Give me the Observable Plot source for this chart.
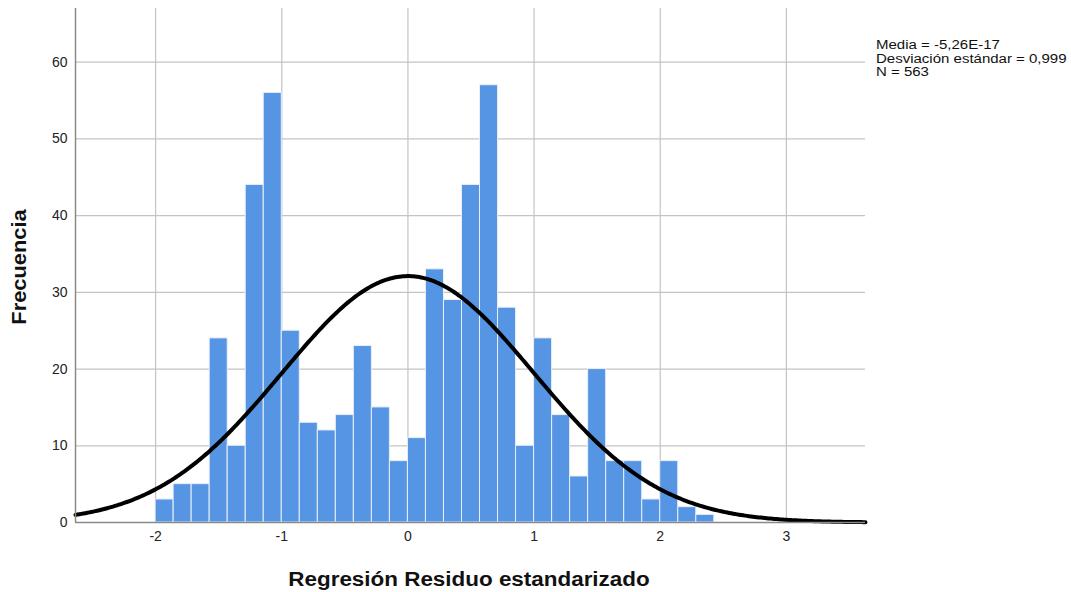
<!DOCTYPE html>
<html>
<head>
<meta charset="utf-8">
<script src="https://cdn.jsdelivr.net/npm/d3@7"></script>
<script src="https://cdn.jsdelivr.net/npm/@observablehq/plot@0.6"></script>
<style>
  html, body { margin: 0; padding: 0; background: #fff; }
  #wrap { position: relative; width: 1071px; height: 592px; font-family: "Liberation Sans", Arial, sans-serif; overflow: hidden; }
  #legend { position: absolute; left: 876px; top: 39px; font-size: 12px; line-height: 13.5px; color: #111; white-space: nowrap; transform: scaleX(1.25); transform-origin: 0 0; }
  .axtitle { position: absolute; font-size: 19.5px; font-weight: bold; color: #111; white-space: nowrap; line-height: 1; }
  #xtitle { left: 469px; top: 570px; transform: translateX(-50%) scaleX(1.15); }
  #ytitle { left: 20px; top: 267px; transform: translate(-50%, -50%) rotate(-90deg) scaleX(1.12); }
  svg g[aria-label="x-axis tick label"] text, svg g[aria-label="y-axis tick label"] text { font-size: 14px; fill: #222; }
</style>
</head>
<body>
<div id="wrap"></div>
<script>
// Histogram counts (bins of width 1/7 starting at -2)
const counts = [3, 5, 5, 24, 10, 44, 56, 25, 13, 12, 14, 23, 15, 8, 11, 33, 29, 44, 57, 28, 10, 24, 14, 6, 20, 8, 8, 3, 8, 2, 1];
const binStart = -2;
const binWidth = 1 / 7;
const xTicks = [-2, -1, 0, 1, 2, 3];
const yTicks = [0, 10, 20, 30, 40, 50, 60];
const stats = { mean: -5.26e-17, sd: 0.999, n: 563 };
const legendLines = ["Media = -5,26E-17", "Desviación estándar = 0,999", "N = 563"];
const xTitle = "Regresión Residuo estandarizado";
const yTitle = "Frecuencia";
const xDomain = [-2.635, 3.627];
const yDomain = [0, 67];

const bins = counts.map((c, i) => ({ x1: binStart + i * binWidth, x2: binStart + (i + 1) * binWidth, y: c }));

// Normal curve from the stated mean, sd and N
const curve = d3.range(0, 401).map(i => {
  const x = xDomain[0] + (xDomain[1] - xDomain[0]) * i / 400;
  const z = (x - stats.mean) / stats.sd;
  return { x, y: stats.n * binWidth * Math.exp(-0.5 * z * z) / (stats.sd * Math.sqrt(2 * Math.PI)) };
});

const chart = Plot.plot({
  width: 1071,
  height: 592,
  marginLeft: 75,
  marginRight: 206,
  marginTop: 8,
  marginBottom: 70,
  style: { fontFamily: "Liberation Sans, Arial, sans-serif", background: "#fff" },
  x: { domain: xDomain },
  y: { domain: yDomain },
  marks: [
    Plot.gridX(xTicks, { stroke: "#c4c4c4", strokeOpacity: 1, strokeWidth: 1.2 }),
    Plot.gridY(yTicks, { stroke: "#c4c4c4", strokeOpacity: 1, strokeWidth: 1.2 }),
    Plot.rectY(bins, { x1: "x1", x2: "x2", y: "y", fill: "#5695e3", stroke: "#e8effa", strokeWidth: 1 }),
    Plot.line(curve, { x: "x", y: "y", stroke: "#000", strokeWidth: 4 }),
    Plot.ruleY([0], { stroke: "#8a8a8a", strokeWidth: 1.5 }),
    Plot.ruleX([xDomain[0]], { stroke: "#8a8a8a", strokeWidth: 1.5 }),
    Plot.axisX(xTicks, { tickSize: 0, tickPadding: 9, tickFormat: d => String(d), label: null }),
    Plot.axisY(yTicks, { tickSize: 0, tickPadding: 8, tickFormat: d => String(d), label: null })
  ]
});

const wrap = document.getElementById("wrap");
wrap.appendChild(chart);
const legend = document.createElement("div");
legend.id = "legend";
legend.innerHTML = legendLines.map(s => `<div>${s}</div>`).join("");
wrap.appendChild(legend);
const xt = document.createElement("div");
xt.id = "xtitle"; xt.className = "axtitle"; xt.textContent = xTitle;
wrap.appendChild(xt);
const yt = document.createElement("div");
yt.id = "ytitle"; yt.className = "axtitle"; yt.textContent = yTitle;
wrap.appendChild(yt);
</script>
</body>
</html>
